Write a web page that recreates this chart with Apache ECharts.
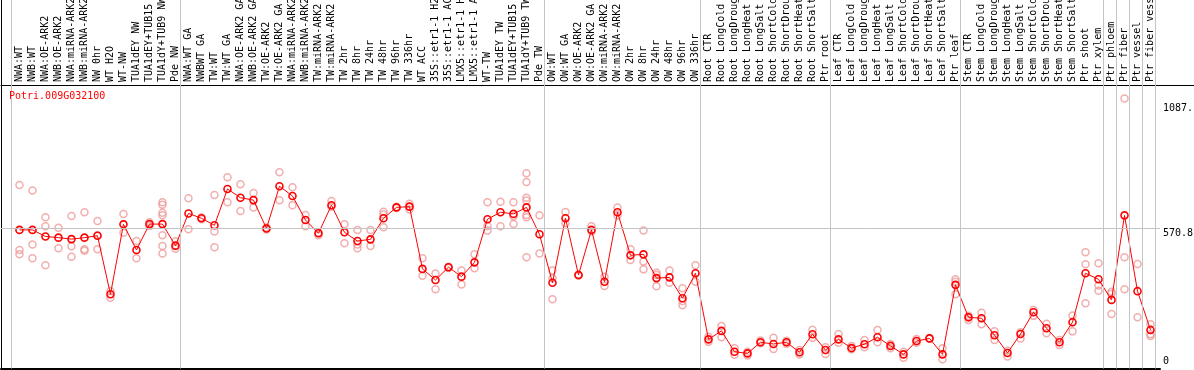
<!DOCTYPE html>
<html>
<head>
<meta charset="utf-8">
<script src="https://cdn.jsdelivr.net/npm/echarts@6/dist/echarts.min.js"></script>
<style>
html,body{margin:0;padding:0;background:#fff;}
#chart{width:1194px;height:370px;}
</style>
</head>
<body>
<div id="chart"></div>
<script>
const geneName = 'Potri.009G032100';

const categories = [
  'NWA:WT','NWB:WT','NWA:OE-ARK2','NWB:OE-ARK2','NWA:miRNA-ARK2','NWB:miRNA-ARK2','NW 0hr','WT H2O','WT-NW',
  'TUA1dEY NW','TUA1dEY+TUB15 NW','TUA1dY+TUB9 NW','Pde NW',
  'NWA:WT GA','NWBWT GA','TW:WT','TW:WT GA','NWA:OE-ARK2 GA','NWB:OE-ARK2 GA','TW:OE-ARK2','TW:OE-ARK2 GA',
  'NWA:miRNA-ARK2 GA','NWB:miRNA-ARK2 GA','TW:miRNA-ARK2','TW:miRNA-ARK2 GA',
  'TW 2hr','TW 8hr','TW 24hr','TW 48hr','TW 96hr','TW 336hr','WT ACC',
  '35S::etr1-1 H2O','35S::etr1-1 ACC','LMX5::etr1-1 H2O','LMX5::etr1-1 ACC',
  'WT-TW','TUA1dEY TW','TUA1dEY+TUB15 TW','TUA1dY+TUB9 TW','Pde TW',
  'OW:WT','OW:WT GA','OW:OE-ARK2','OW:OE-ARK2 GA','OW:miRNA-ARK2','OW:miRNA-ARK2 GA',
  'OW 2hr','OW 8hr','OW 24hr','OW 48hr','OW 96hr','OW 336hr',
  'Root CTR','Root LongCold','Root LongDrought','Root LongHeat','Root LongSalt','Root ShortCold','Root ShortDrought','Root ShortHeat','Root ShortSalt','Ptr root',
  'Leaf CTR','Leaf LongCold','Leaf LongDrought','Leaf LongHeat','Leaf LongSalt','Leaf ShortCold','Leaf ShortDrought','Leaf ShortHeat','Leaf ShortSalt','Ptr leaf',
  'Stem CTR','Stem LongCold','Stem LongDrought','Stem LongHeat','Stem LongSalt','Stem ShortCold','Stem ShortDrought','Stem ShortHeat','Stem ShortSalt','Ptr shoot',
  'Ptr xylem','Ptr phloem','Ptr fiber','Ptr vessel','Ptr fiber vessel'
];

// number of consecutive categories in each separated group
const groupSizes = [13, 28, 12, 10, 10, 11, 1, 1, 1, 1];

const means = [
  564, 564, 537, 532, 526, 532, 540, 298, 587, 481, 588, 588, 499,
  632, 612, 583, 733, 697, 687, 570, 744, 704, 605, 550, 666, 554, 518, 525, 612, 657, 660, 403, 357, 410, 371, 430, 608, 637, 630, 657, 546,
  346, 612, 378, 564, 350, 637, 459, 463, 365, 368, 282, 385,
  112, 147, 61, 54, 100, 93, 100, 59, 133, 68,
  112, 76, 92, 121, 85, 50, 105, 116, 50, 337,
  203, 199, 129, 56, 134, 224, 158, 100, 183, 385, 360,
  275, 624, 311, 151
];

const replicates = [
  [749,481,463],[727,504,447],[616,579,418],[573,488],[621,496,453],[637,484,478],[601,542,484],[312,284],[630,552],[518,447],
  [596,580],[678,668,635,624,542,498,467],[517,498,486],
  [695,567],[615,608],[708,557,492],[781,678],[752,642],[716,657],[574,566],[802,686],[740,666],[626,579],[552,542],[683,660],
  [587,509],[564,504,488],[564,498],[639,628,575],[660,654],[672,660,648],[447,375],[384,319],[412,407],[396,339],[463,406],
  [678,580,561],[680,579],[678,620,588],[798,762,697,685,626,616,451],[624,467],
  [396,364,278],[638,591],[380,375],[579,557],[371,332],[656,623],[484,440],[562,433,401],[387,378,331],[396,346],[323,270,253],[418,350],
  [123,102],[167,121],[75,48],[61,45],[107,96],[119,72],[106,94],[68,50],[152,119],[79,52],
  [134,98],[85,71],[109,79],[151,100],[93,75],[61,36],[114,98],[118,115],[75,30],[360,350,298],
  [210,192],[222,174],[145,109],[65,41],[141,116],[233,209],[176,137],[109,89],[211,145],[472,422,261],[426,334,313],
  [309,300,217],[1107,451,319],[423,203],[174,133,126]
];

const yTickValues = [570.8, 1087];
const yTickLabels = ['570.8', '1087.'];
const yZeroLabel = '0';

// ---- build series data from the arrays ----
const meanData = means.map((v, i) => [i, v]);
const repData = [];
replicates.forEach((arr, i) => arr.forEach(v => repData.push([i, v])));

const sepOffset = 4.5 / 13;
const sepValues = [-1 + sepOffset];
let acc = 0;
groupSizes.forEach(n => { acc += n; sepValues.push(acc - 1 + sepOffset); });

const X_MIN = -1.42;
const X_MAX_PLOT = 87.73;
const X_MAX_TOP = 90.35;
const Y_MIN = -8.3;
const Y_MAX = 1162.3;

const FONT = 'DejaVu Sans Mono';
const SEP_COLOR = '#c4c4c4';
const REP_COLOR = '#ee9a9a';

const hiddenAxisBits = {
  axisTick: { show: false },
  axisLabel: { show: false },
  splitLine: { show: false }
};

const chart = echarts.init(document.getElementById('chart'), null, { renderer: 'canvas' });

chart.setOption({
  animation: false,
  backgroundColor: '#ffffff',
  title: {
    text: geneName,
    left: 9,
    top: 91,
    padding: 0,
    textStyle: { color: '#ff0000', fontSize: 10, fontFamily: FONT, fontWeight: 'normal' }
  },
  grid: [
    { left: 1, top: 0, width: 1193, height: 85, containLabel: false, outerBoundsMode: 'none' },
    { left: 1, top: 85, width: 1159, height: 283.5, containLabel: false, outerBoundsMode: 'none' }
  ],
  xAxis: [
    { gridIndex: 0, type: 'value', min: X_MIN, max: X_MAX_TOP, position: 'bottom',
      axisLine: { show: true, onZero: false, lineStyle: { color: '#000', width: 1 } }, ...hiddenAxisBits },
    { gridIndex: 1, type: 'value', min: X_MIN, max: X_MAX_PLOT, position: 'top',
      axisLine: { show: false, onZero: false },
      axisTick: { show: false },
      splitLine: { show: false },
      axisLabel: {
        show: true,
        customValues: categories.map((c, i) => i),
        formatter: v => categories[Math.round(v)] || '',
        rotate: -90,
        margin: 3,
        fontSize: 10,
        fontFamily: FONT,
        color: '#000',
        hideOverlap: false
      }
    },
    { gridIndex: 1, type: 'value', min: X_MIN, max: X_MAX_PLOT, position: 'bottom',
      axisLine: { show: true, onZero: false, lineStyle: { color: '#000', width: 2 } }, ...hiddenAxisBits }
  ],
  yAxis: [
    { gridIndex: 0, type: 'value', min: 0, max: 1, position: 'left',
      axisLine: { show: true, onZero: false, lineStyle: { color: '#000', width: 1 } }, ...hiddenAxisBits },
    { gridIndex: 1, type: 'value', min: Y_MIN, max: Y_MAX, position: 'right',
      axisLine: { show: false, onZero: false },
      axisTick: { show: false },
      splitLine: { show: false },
      axisLabel: {
        show: true,
        customValues: yTickValues,
        formatter: v => yTickLabels[yTickValues.indexOf(v)] || String(v),
        verticalAlign: 'top',
        margin: 3,
        fontSize: 10,
        fontFamily: FONT,
        color: '#000'
      }
    },
    { gridIndex: 1, type: 'value', min: Y_MIN, max: Y_MAX, position: 'right',
      axisLine: { show: false, onZero: false },
      axisTick: { show: false },
      splitLine: { show: false },
      axisLabel: {
        show: true,
        customValues: [0],
        formatter: () => yZeroLabel,
        verticalAlign: 'bottom',
        margin: 3,
        fontSize: 10,
        fontFamily: FONT,
        color: '#000'
      }
    },
    { gridIndex: 1, type: 'value', min: Y_MIN, max: Y_MAX, position: 'left',
      axisLine: { show: true, onZero: false, lineStyle: { color: '#000', width: 1 } }, ...hiddenAxisBits }
  ],
  series: [
    {
      type: 'line', xAxisIndex: 0, yAxisIndex: 0, data: [], silent: true, z: 1,
      markLine: {
        silent: true, symbol: ['none', 'none'], label: { show: false },
        lineStyle: { color: SEP_COLOR, width: 1, type: 'solid' },
        data: sepValues.map(v => ({ xAxis: v }))
      }
    },
    {
      type: 'line', xAxisIndex: 1, yAxisIndex: 1, data: [], silent: true, z: 1,
      markLine: {
        silent: true, symbol: ['none', 'none'], label: { show: false },
        lineStyle: { color: SEP_COLOR, width: 1, type: 'solid' },
        data: sepValues.map(v => ({ xAxis: v })).concat(yTickValues.slice(0, 1).map(v => ({ yAxis: v })))
      }
    },
    {
      name: 'replicates', type: 'scatter', xAxisIndex: 1, yAxisIndex: 1, z: 3,
      symbol: 'circle', symbolSize: 7,
      itemStyle: { color: 'rgba(0,0,0,0)', borderColor: REP_COLOR, borderWidth: 1.5 },
      data: repData
    },
    {
      name: 'mean', type: 'line', xAxisIndex: 1, yAxisIndex: 1, z: 4,
      symbol: 'circle', symbolSize: 7, showAllSymbol: true,
      lineStyle: { color: '#ff0000', width: 1 },
      itemStyle: { color: 'rgba(0,0,0,0)', borderColor: '#ff0000', borderWidth: 1.6 },
      data: meanData
    }
  ]
});
</script>
</body>
</html>
